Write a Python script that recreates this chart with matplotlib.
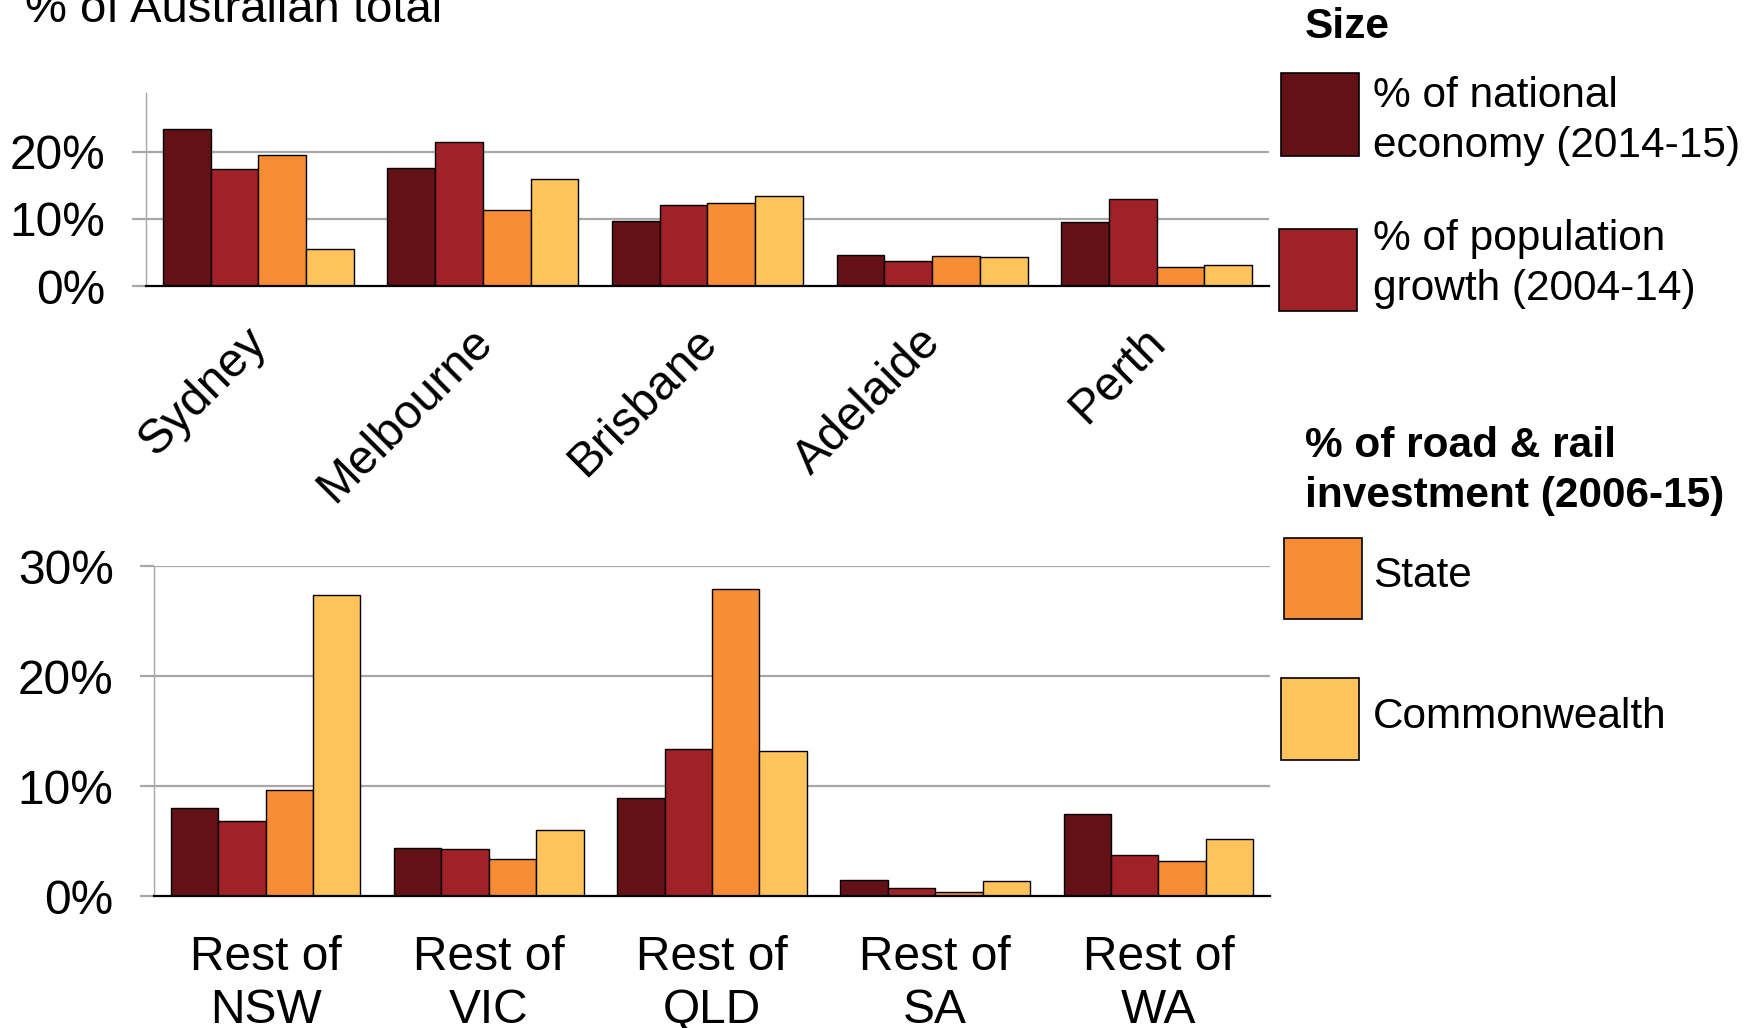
import numpy as np
import matplotlib
matplotlib.use('Agg')
import matplotlib.pyplot as plt
import matplotlib.transforms as mtransforms
from matplotlib.patches import Rectangle

plt.rcParams['font.family'] = ['Liberation Sans', 'DejaVu Sans']

# Capital cities (top panel) and regional areas (bottom panel)
cities = ['Sydney', 'Melbourne', 'Brisbane', 'Adelaide', 'Perth']
regions = ['Rest of\nNSW', 'Rest of\nVIC', 'Rest of\nQLD', 'Rest of\nSA', 'Rest of\nWA']

series_names = ['% of national\neconomy (2014-15)', '% of population\ngrowth (2004-14)',
                'State', 'Commonwealth']
colors = ['#641116', '#A02127', '#F68D35', '#FEC35A']

# % of Australian total, cities
city_economy = [23.4, 17.6, 9.7, 4.6, 9.6]
city_popgrowth = [17.4, 21.5, 12.1, 3.8, 13.0]
city_state = [19.6, 11.3, 12.4, 4.5, 2.9]
city_cwlth = [5.5, 16.0, 13.5, 4.3, 3.2]

# % of Australian total, rest of state
reg_economy = [8.0, 4.4, 8.9, 1.5, 7.5]
reg_popgrowth = [6.8, 4.3, 13.4, 0.7, 3.7]
reg_state = [9.6, 3.4, 27.9, 0.4, 3.2]
reg_cwlth = [27.4, 6.0, 13.2, 1.4, 5.2]

W, H = 1758, 1028
fig = plt.figure(figsize=(W / 100, H / 100), dpi=100)


def fx(px):
    return px / W


def fy(py):
    return 1 - py / H


ax1 = fig.add_axes([fx(146), fy(286), fx(1269) - fx(146), fy(93) - fy(286)])
ax2 = fig.add_axes([fx(154), fy(896), fx(1270) - fx(154), fy(566) - fy(896)])

bw = 0.2125
grid_col = '#A6A8AA'
tick_fs = 34.5
legend_fs = 30.5


def draw_panel(ax, labels, data, ymax, yticks):
    x = np.arange(len(labels))
    for k, vals in enumerate(data):
        ax.bar(x + (k - 1.5) * bw, vals, width=bw, color=colors[k],
               edgecolor='black', linewidth=1.0, zorder=3)
    ax.set_xlim(-0.5, len(labels) - 0.5)
    ax.set_ylim(0, ymax)
    ax.set_yticks(yticks)
    ax.set_yticklabels([f'{t}%' for t in yticks])
    for t in yticks[1:]:
        ax.axhline(t, color=grid_col, linewidth=1.6, zorder=1)
    for s in ['top', 'right']:
        ax.spines[s].set_visible(False)
    ax.spines['left'].set_color(grid_col)
    ax.spines['left'].set_linewidth(1.0)
    ax.spines['bottom'].set_color('black')
    ax.spines['bottom'].set_linewidth(1.6)
    ax.spines['bottom'].set_zorder(4)
    ax.tick_params(axis='y', length=10, width=1.6, color=grid_col, pad=19,
                   labelsize=tick_fs)
    ax.tick_params(axis='x', length=0, labelsize=tick_fs)
    ax.set_xticks(x)


draw_panel(ax1, cities, [city_economy, city_popgrowth, city_state, city_cwlth],
           28.8, [0, 10, 20])
ax1.set_xticklabels(cities, rotation=45, ha='right', va='top',
                    rotation_mode='anchor')
ax1.tick_params(axis='x', pad=12)
# nudge the slanted city names down and to the left
shift = mtransforms.ScaledTranslation(-10 / 72, -12 / 72, fig.dpi_scale_trans)
for lbl in ax1.get_xticklabels():
    lbl.set_transform(lbl.get_transform() + shift)

draw_panel(ax2, regions, [reg_economy, reg_popgrowth, reg_state, reg_cwlth],
           30, [0, 10, 20, 30])
ax2.set_xticklabels(regions, linespacing=1.22)
ax2.tick_params(axis='x', pad=28)

fig.text(fx(25), fy(22), '% of Australian total', fontsize=34, va='baseline')

# legend blocks on the right
fig.text(fx(1305), fy(27), 'Size', fontsize=legend_fs, fontweight='bold', va='center')
fig.text(fx(1305), fy(471), '% of road & rail\ninvestment (2006-15)', fontsize=legend_fs,
         fontweight='bold', va='center', linespacing=1.33)

boxes = [(1281, 73, 156, 121), (1279, 229, 311, 264),
         (1284, 538, 619, 576), (1281, 678, 760, 717)]
for (x0, ytop, ybot, ytext), name, col in zip(boxes, series_names, colors):
    fig.add_artist(Rectangle((fx(x0), fy(ybot)), fx(78), fy(ytop) - fy(ybot),
                             transform=fig.transFigure, facecolor=col,
                             edgecolor='black', linewidth=1.2))
    fig.text(fx(1373), fy(ytext), name, fontsize=legend_fs, va='center',
             linespacing=1.33)

fig.savefig('out.png', dpi=100)
